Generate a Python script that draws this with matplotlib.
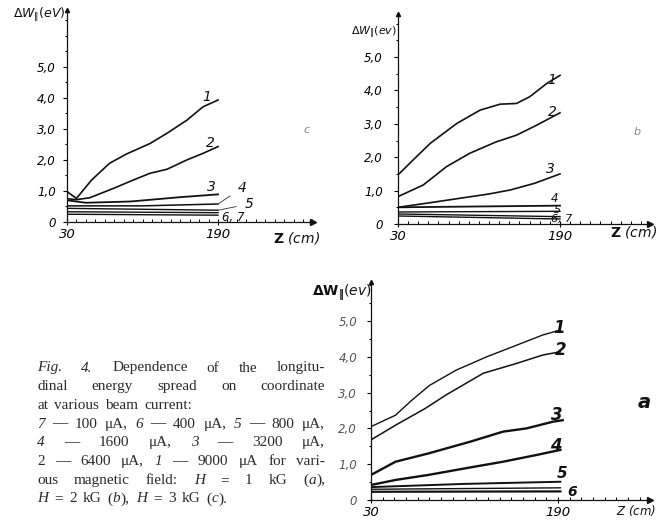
import re
import matplotlib
matplotlib.use("Agg")
import matplotlib.pyplot as plt
from matplotlib.ticker import MultipleLocator

# ---------------- data ----------------
# panel c : H = 3 kG
c1_x = [30, 40, 56, 75, 93, 118, 136, 157, 174, 190]
c1_y = [0.98, 0.76, 1.35, 1.89, 2.19, 2.53, 2.86, 3.28, 3.71, 3.93]
c2_x = [30, 40, 54, 79, 100, 118, 136, 157, 174, 190]
c2_y = [0.75, 0.72, 0.78, 1.08, 1.35, 1.57, 1.70, 2.00, 2.21, 2.43]
c3_x = [30, 50, 97, 150, 190]
c3_y = [0.70, 0.62, 0.66, 0.80, 0.89]
c4_x = [30, 110, 190]
c4_y = [0.52, 0.52, 0.58]
c5_x = [30, 190]
c5_y = [0.44, 0.38]
c6_x = [30, 190]
c6_y = [0.33, 0.30]
c7_x = [30, 190]
c7_y = [0.25, 0.22]

# panel b : H = 2 kG
b1_x = [30, 45, 62, 88, 111, 131, 147, 160, 177, 190]
b1_y = [1.47, 1.92, 2.42, 3.01, 3.41, 3.59, 3.61, 3.81, 4.21, 4.45]
b2_x = [30, 55, 78, 101, 127, 147, 167, 190]
b2_y = [0.82, 1.17, 1.72, 2.12, 2.46, 2.66, 2.96, 3.33]
b3_x = [30, 60, 91, 120, 141, 165, 190]
b3_y = [0.50, 0.63, 0.77, 0.90, 1.02, 1.22, 1.50]
b4_x = [30, 190]
b4_y = [0.50, 0.55]
b5_x = [30, 190]
b5_y = [0.36, 0.38]
b6_x = [30, 190]
b6_y = [0.30, 0.22]
b7_x = [30, 190]
b7_y = [0.24, 0.15]

# panel a : H = 1 kG
a1_x = [30, 51, 65, 80, 103, 129, 155, 177, 192]
a1_y = [2.05, 2.37, 2.79, 3.20, 3.63, 4.00, 4.33, 4.61, 4.75]
a2_x = [30, 51, 76, 95, 126, 155, 177, 192]
a2_y = [1.68, 2.09, 2.55, 2.95, 3.54, 3.82, 4.05, 4.14]
a3_x = [30, 51, 79, 115, 143, 163, 186, 194]
a3_y = [0.70, 1.07, 1.30, 1.63, 1.91, 2.00, 2.19, 2.23]
a4_x = [30, 51, 79, 115, 143, 172, 192]
a4_y = [0.42, 0.56, 0.70, 0.91, 1.07, 1.26, 1.40]
a5_x = [30, 110, 192]
a5_y = [0.36, 0.45, 0.51]
a6_x = [30, 192]
a6_y = [0.30, 0.34]
a7_x = [30, 192]
a7_y = [0.23, 0.24]

y_ticks = [0, 1, 2, 3, 4, 5]
y_ticklabels = ["0", "1,0", "2,0", "3,0", "4,0", "5,0"]
x_ticks = [30, 190]
x_ticklabels = ["30", "190"]
curve_names = ["1", "2", "3", "4", "5", "6, 7"]

caption_lines = [
    ("{Fig.} {4.} Dependence of the longitu-", True),
    ("dinal energy spread on coordinate", True),
    ("at various beam current:", False),
    ("{7} — 100 μA, {6} — 400 μA, {5} — 800 μA,", True),
    ("{4} — 1600 μA, {3} — 3200 μA,", True),
    ("2 — 6400 μA, {1} — 9000 μA for vari-", True),
    ("ous magnetic field: {H} = 1 kG ({a}),", True),
    ("{H} = 2 kG ({b}), {H} = 3 kG ({c}).", False),
]

# ---------------- figure ----------------
W, H = 665, 520
fig = plt.figure(figsize=(6.65, 5.2), dpi=100)
plt.rcParams["mathtext.fontset"] = "dejavusans"
HAND = "DejaVu Sans"


def pax(l, t, r, b):
    return fig.add_axes([l / W, 1 - b / H, (r - l) / W, (b - t) / H])


def ftext(x, y, s, **kw):
    return fig.text(x / W, 1 - y / H, s, **kw)


def style(ax, xmax, ymax, ypad, lw=0.9):
    ax.set_xlim(30, xmax)
    ax.set_ylim(0, ymax)
    ax.patch.set_alpha(0)
    for s in ["top", "right"]:
        ax.spines[s].set_visible(False)
    for s in ["left", "bottom"]:
        ax.spines[s].set_linewidth(lw)
        ax.spines[s].set_color("#111111")
    ax.set_xticks(x_ticks)
    ax.set_xticklabels(x_ticklabels, fontsize=9.5, style="italic", family=HAND)
    ax.xaxis.set_minor_locator(MultipleLocator(10))
    ax.set_yticks(y_ticks)
    ax.set_yticklabels(y_ticklabels, fontsize=8.5, style="italic", family=HAND)
    ax.yaxis.set_minor_locator(MultipleLocator(0.5))
    ax.tick_params(axis="y", which="major", direction="out", length=3, width=0.8, pad=ypad)
    ax.tick_params(axis="y", which="minor", direction="out", length=1.5, width=0.8)
    ax.tick_params(axis="x", which="major", direction="inout", length=4, width=0.8, pad=2)
    ax.tick_params(axis="x", which="minor", direction="in", length=2, width=0.7)
    ax.plot(1, 0, ">", color="#111111", ms=4, transform=ax.transAxes, clip_on=False)
    ax.plot(0, 1, "^", color="#111111", ms=3, transform=ax.transAxes, clip_on=False)


# ---- panel c ----
axc = pax(67, 10, 313, 222)
style(axc, 290.6, 6.83, 5)
for xs, ys, lw in [(c1_x, c1_y, 1.2), (c2_x, c2_y, 1.2), (c3_x, c3_y, 1.3), (c4_x, c4_y, 1.1),
                   (c5_x, c5_y, 1.0), (c6_x, c6_y, 1.0), (c7_x, c7_y, 1.0)]:
    axc.plot(xs, ys, color="#111111", lw=lw)
kw = dict(textcoords="figure pixels", fontsize=10, style="italic", family=HAND,
          ha="center", va="center", color="#111111")
axc.annotate(curve_names[0], xy=(c1_x[-1], c1_y[-1]), xytext=(207, H - 97), **kw)
axc.annotate(curve_names[1], xy=(c2_x[-1], c2_y[-1]), xytext=(210, H - 143), **kw)
axc.annotate(curve_names[2], xy=(c3_x[-1], c3_y[-1]), xytext=(211, H - 187), **kw)
axc.annotate(curve_names[3], xy=(c4_x[-1], c4_y[-1]), xytext=(242, H - 188),
             arrowprops=dict(arrowstyle="-", lw=0.6, color="#333333", shrinkA=4, shrinkB=0), **kw)
axc.annotate(curve_names[4], xy=(c5_x[-1], c5_y[-1]), xytext=(249, H - 204),
             arrowprops=dict(arrowstyle="-", lw=0.6, color="#333333", shrinkA=4, shrinkB=0), **kw)
axc.annotate(curve_names[5], xy=(c7_x[-1], c7_y[-1]), xytext=(233, H - 218),
             **dict(kw, fontsize=8.5))
ftext(307, 130, "c", fontsize=8, style="italic", color="#888888", ha="center", va="center")
ftext(66, 15, r"$\Delta W_{\|}(eV)$", fontsize=9, ha="right", va="center", color="#111111")
ftext(297, 238, r"$\mathbf{Z}$ (cm)", fontsize=10, style="italic", family=HAND,
      ha="center", va="center", color="#111111")

# ---- panel b ----
axb = pax(398, 14, 650, 224)
style(axb, 278.9, 6.29, 8)
for xs, ys, lw in [(b1_x, b1_y, 1.2), (b2_x, b2_y, 1.2), (b3_x, b3_y, 1.2), (b4_x, b4_y, 1.3),
                   (b5_x, b5_y, 1.0), (b6_x, b6_y, 1.0), (b7_x, b7_y, 1.0)]:
    axb.plot(xs, ys, color="#111111", lw=lw)
axb.annotate(curve_names[0], xy=(b1_x[-1], b1_y[-1]), xytext=(552, H - 80), **kw)
axb.annotate(curve_names[1], xy=(b2_x[-1], b2_y[-1]), xytext=(552, H - 112), **kw)
axb.annotate(curve_names[2], xy=(b3_x[-1], b3_y[-1]), xytext=(550, H - 169), **kw)
axb.annotate(curve_names[3], xy=(b4_x[-1], b4_y[-1]), xytext=(555, H - 199), **dict(kw, fontsize=8.5))
axb.annotate(curve_names[4], xy=(b5_x[-1], b5_y[-1]), xytext=(557, H - 210), **dict(kw, fontsize=8))
axb.annotate(curve_names[5], xy=(b7_x[-1], b7_y[-1]), xytext=(562, H - 219), **dict(kw, fontsize=8))
ftext(637, 132, "b", fontsize=8, style="italic", color="#888888", ha="center", va="center")
ftext(397, 32, r"$\Delta W_{\|}(ev)$", fontsize=8, ha="right", va="center", color="#111111")
ftext(634, 232, r"$\mathbf{Z}$ (cm)", fontsize=10, style="italic", family=HAND,
      ha="center", va="center", color="#111111")

# ---- panel a ----
axa = pax(371, 282, 650, 500)
style(axa, 268.7, 6.09, 7)
for t in axa.get_yticklabels():
    t.set_color("#555555")
for xs, ys, lw in [(a1_x, a1_y, 1.0), (a2_x, a2_y, 1.1), (a3_x, a3_y, 1.7), (a4_x, a4_y, 1.7),
                   (a5_x, a5_y, 1.4), (a6_x, a6_y, 1.0), (a7_x, a7_y, 1.6)]:
    axa.plot(xs, ys, color="#111111", lw=lw)
kwa = dict(kw, fontsize=12, weight="bold")
axa.annotate(curve_names[0], xy=(a1_x[-1], a1_y[-1]), xytext=(559, H - 328), **kwa)
axa.annotate(curve_names[1], xy=(a2_x[-1], a2_y[-1]), xytext=(561, H - 350), **kwa)
axa.annotate(curve_names[2], xy=(a3_x[-1], a3_y[-1]), xytext=(557, H - 415), **kwa)
axa.annotate(curve_names[3], xy=(a4_x[-1], a4_y[-1]), xytext=(556, H - 446), **kwa)
axa.annotate(curve_names[4], xy=(a5_x[-1], a5_y[-1]), xytext=(562, H - 474), **dict(kwa, fontsize=11))
axa.annotate("6", xy=(a7_x[-1], a7_y[-1]), xytext=(572, H - 492), **dict(kwa, fontsize=10))
ftext(644, 403, "a", fontsize=14, style="italic", weight="bold", ha="center", va="center",
      color="#111111")
ftext(372, 293, r"$\mathbf{\Delta W_{\|}}(ev)$", fontsize=10, ha="right", va="center",
      color="#111111")
ftext(636, 510, r"$Z$ (cm)", fontsize=8.5, style="italic", family=HAND,
      ha="center", va="center", color="#111111")

# ---- caption (justified text) ----
fig.canvas.draw()
renderer = fig.canvas.get_renderer()
CAP = dict(family="Liberation Serif", fontsize=11, color="#2a2a2a", va="baseline")
x0, x1 = 37, 325
y0, dy = 371.5, 18.7


def place_word(word, x, y, measure_only=False):
    segs = re.findall(r"\{([^}]*)\}|([^{}]+)", word)
    cx = x
    for ital, norm in segs:
        s = ital if ital else norm
        t = ftext(cx, y, s, style="italic" if ital else "normal", **CAP)
        w = t.get_window_extent(renderer).width
        if measure_only:
            t.remove()
        cx += w
    return cx - x


for i, (line, justify) in enumerate(caption_lines):
    y = y0 + i * dy
    words = line.split(" ")
    widths = [place_word(w, 0, y, measure_only=True) for w in words]
    space = place_word("a b", 0, y, measure_only=True) - place_word("ab", 0, y, measure_only=True)
    if justify and len(words) > 1:
        gap = (x1 - x0 - sum(widths)) / (len(words) - 1)
    else:
        gap = space * 1.6
    x = x0
    for w, wd in zip(words, widths):
        place_word(w, x, y)
        x += wd + gap

fig.savefig("out.png", dpi=100)
